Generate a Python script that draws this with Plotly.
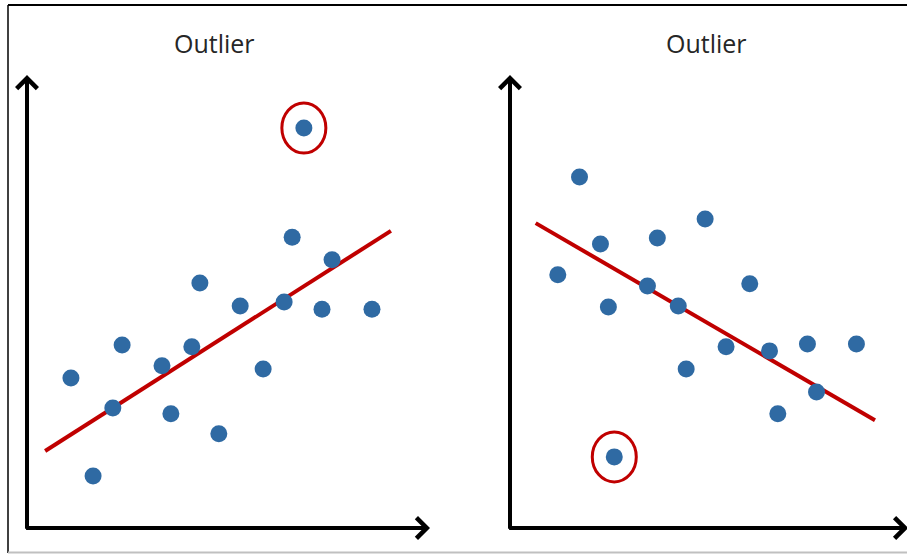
import plotly.graph_objects as go

# ---- data (abstract units, 0..10 on each axis) ----
left_x = [1.09, 1.64, 2.13, 2.36, 3.35, 3.57, 4.09, 4.29, 4.76, 5.29, 5.86, 6.38, 6.58, 7.32, 7.57, 8.56]
left_y = [3.31, 1.15, 2.65, 4.04, 3.58, 2.52, 4.00, 5.41, 2.08, 4.90, 3.51, 4.99, 6.42, 4.83, 5.92, 4.83]
left_outlier_x = [6.87]
left_outlier_y = [8.83]
left_fit_x = [0.45, 9.03]
left_fit_y = [1.70, 6.56]

right_x = [1.21, 1.76, 2.29, 2.49, 3.48, 3.73, 4.26, 4.46, 4.94, 5.47, 6.07, 6.57, 6.78, 7.53, 7.76, 8.77]
right_y = [5.59, 7.75, 6.27, 4.88, 5.34, 6.40, 4.90, 3.51, 6.82, 4.00, 5.39, 3.91, 2.52, 4.06, 3.00, 4.06]
right_outlier_x = [2.64]
right_outlier_y = [1.57]
right_fit_x = [0.65, 9.24]
right_fit_y = [6.73, 2.38]

titles = ["Outlier", "Outlier"]

W, H = 907, 554
DOT = "#2f6aa3"
RED = "#c00000"

fig = go.Figure()

panels = [
    ("x", "y", left_x, left_y, left_outlier_x, left_outlier_y, left_fit_x, left_fit_y),
    ("x2", "y2", right_x, right_y, right_outlier_x, right_outlier_y, right_fit_x, right_fit_y),
]
for xa, ya, px, py, ox, oy, fx, fy in panels:
    fig.add_trace(go.Scatter(x=fx, y=fy, mode="lines", xaxis=xa, yaxis=ya,
                             line=dict(color=RED, width=4), hoverinfo="skip"))
    fig.add_trace(go.Scatter(x=px + ox, y=py + oy, mode="markers", xaxis=xa, yaxis=ya,
                             marker=dict(color=DOT, size=17, line=dict(width=0))))
    # ring around the outlier
    fig.add_shape(type="circle", xref=xa, yref=ya, xsizemode="pixel", ysizemode="pixel",
                  xanchor=ox[0], yanchor=oy[0], x0=-22, x1=22, y0=-25, y1=25,
                  line=dict(color=RED, width=3), layer="below")

# axis domains (pixel based)
def fx_(p):
    return p / W

def fy_(p):
    return 1 - p / H

axis_common = dict(range=[0, 10], showgrid=False, zeroline=False, showline=False,
                   showticklabels=False, ticks="", fixedrange=True)
fig.update_layout(
    xaxis=dict(domain=[fx_(27), fx_(430)], **axis_common),
    yaxis=dict(domain=[fy_(528), fy_(75)], **axis_common),
    xaxis2=dict(domain=[fx_(510), fx_(905)], anchor="y2", **axis_common),
    yaxis2=dict(domain=[fy_(528), fy_(75)], anchor="x2", **axis_common),
)

annotations = []
for xa, ya, xtip in [("x", "y", 1.0), ("x2", "y2", 1.008)]:
    xd, yd = xa + " domain", ya + " domain"
    # horizontal axis arrow
    annotations.append(dict(x=xtip, y=0, ax=-0.006, ay=0, xref=xd, yref=yd, axref=xd, ayref=yd,
                            text="", showarrow=True, arrowhead=4, arrowsize=1.0,
                            arrowwidth=4, arrowcolor="black", standoff=0))
    # vertical axis arrow
    annotations.append(dict(x=0, y=1, ax=0, ay=-0.005, xref=xd, yref=yd, axref=xd, ayref=yd,
                            text="", showarrow=True, arrowhead=4, arrowsize=1.0,
                            arrowwidth=4, arrowcolor="black", standoff=0))

for t, cx in zip(titles, [214, 706]):
    annotations.append(dict(x=fx_(cx), y=fy_(43), xref="paper", yref="paper", text=t,
                            showarrow=False, xanchor="center", yanchor="middle",
                            font=dict(family="Open Sans", size=25, color="#262626")))

shapes = [
    dict(type="line", xref="paper", yref="paper", x0=fx_(8), x1=1, y0=fy_(5), y1=fy_(5),
         line=dict(color="black", width=2)),
    dict(type="line", xref="paper", yref="paper", x0=fx_(8), x1=fx_(8), y0=fy_(5), y1=fy_(553),
         line=dict(color="black", width=1.5)),
    dict(type="line", xref="paper", yref="paper", x0=fx_(8), x1=1, y0=fy_(552.5), y1=fy_(552.5),
         line=dict(color="#c0c0c0", width=2)),
]
for s in shapes:
    fig.add_shape(**s)

fig.update_layout(
    width=W, height=H, margin=dict(l=0, r=0, t=0, b=0),
    paper_bgcolor="white", plot_bgcolor="white",
    showlegend=False, annotations=annotations,
)

fig.write_html("out.html", config={"displayModeBar": False},
               post_script="document.body.style.margin='0';document.body.style.overflow='hidden';")
